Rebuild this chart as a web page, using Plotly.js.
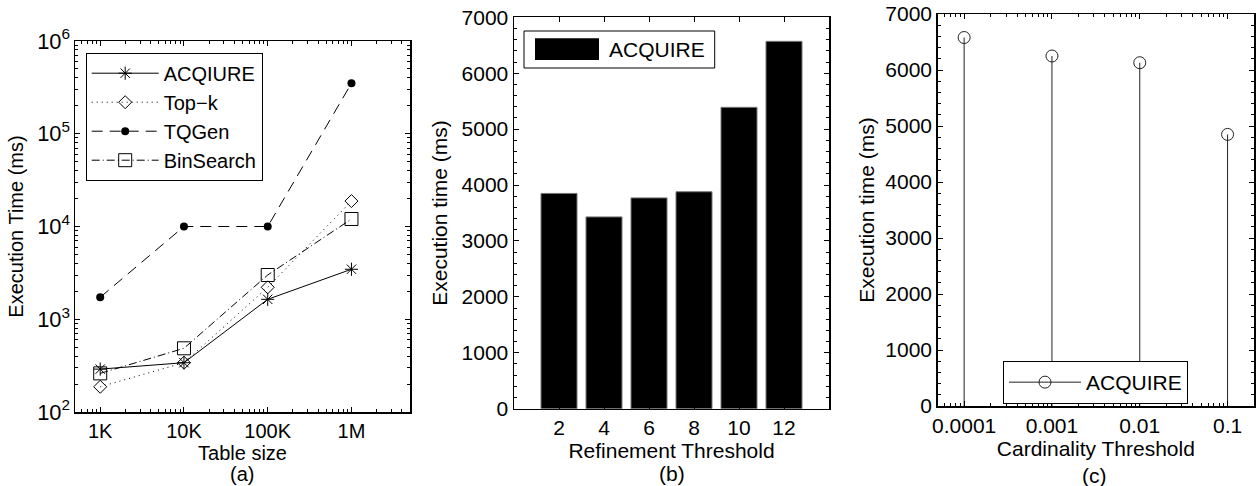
<!DOCTYPE html>
<html>
<head>
<meta charset="utf-8">
<script src="https://cdn.plot.ly/plotly-3.0.1.min.js"></script>
<style>html,body{margin:0;padding:0;background:#fff;}#chart{width:1256px;height:486px;}</style>
</head>
<body>
<div id="chart"></div>
<script>
// ---- data ----
const tableSizes = [1e3, 1e4, 1e5, 1e6];
const tableSizeLabels = ['1K', '10K', '100K', '1M'];
const acqiureTimes = [290, 340, 1640, 3460];
const topkTimes = [187, 340, 2210, 18800];
const tqgenTimes = [1725, 10000, 10000, 350000];
const binsearchTimes = [261, 486, 3000, 12050];

const refinementThresholds = ['2', '4', '6', '8', '10', '12'];
const refinementTimes = [3850, 3430, 3770, 3880, 5390, 6570];

const cardinalityThresholds = [0.0001, 0.001, 0.01, 0.1];
const cardinalityLabels = ['0.0001', '0.001', '0.01', '0.1'];
const cardinalityTimes = [6580, 6250, 6130, 4850];

// ---- layout helpers ----
const W = 1256, H = 486;
const px = x => x / W;
const py = y => 1 - y / H;
const FONT = 'Liberation Sans, Arial, Helvetica, sans-serif';

// stems for panel (c)
const stemX = [], stemY = [];
cardinalityThresholds.forEach((t, i) => {
  stemX.push(t, t, null);
  stemY.push(0, cardinalityTimes[i], null);
});

const stemColor = '#222';

const traces = [
  {x: tableSizes, y: acqiureTimes, name: 'ACQIURE', mode: 'lines+markers', xaxis: 'x', yaxis: 'y', legend: 'legend',
   line: {color: '#000', width: 1}, marker: {symbol: 'asterisk-open', size: 11, line: {color: '#000', width: 1}}},
  {x: tableSizes, y: topkTimes, name: 'Top\u2212k', mode: 'lines+markers', xaxis: 'x', yaxis: 'y', legend: 'legend',
   line: {color: '#000', width: 1, dash: '1px,4px'}, marker: {symbol: 'diamond-open', size: 10, color: '#000', line: {color: '#000', width: 1}}},
  {x: tableSizes, y: tqgenTimes, name: 'TQGen', mode: 'lines+markers', xaxis: 'x', yaxis: 'y', legend: 'legend',
   line: {color: '#000', width: 1, dash: '11px,7px'}, marker: {symbol: 'circle', size: 8, color: '#000'}},
  {x: tableSizes, y: binsearchTimes, name: 'BinSearch', mode: 'lines+markers', xaxis: 'x', yaxis: 'y', legend: 'legend',
   line: {color: '#000', width: 1, dash: '8px,3px,1px,3px'}, marker: {symbol: 'square-open', size: 13, color: '#000', line: {color: '#000', width: 1}}},

  {x: refinementThresholds, y: refinementTimes, type: 'bar', name: 'ACQUIRE', xaxis: 'x2', yaxis: 'y2', showlegend: false,
   width: 0.8, marker: {color: '#000', line: {color: '#777', width: 1}}},

  // stems (c)
  {x: stemX, y: stemY, name: 'ACQUIRE', mode: 'lines', xaxis: 'x3', yaxis: 'y3', showlegend: false,
   line: {color: stemColor, width: 1}},
  // stem heads (c)
  {x: cardinalityThresholds, y: cardinalityTimes, name: 'ACQUIRE', mode: 'markers', xaxis: 'x3', yaxis: 'y3', showlegend: false,
   marker: {symbol: 'circle-open', size: 12, color: stemColor, line: {color: stemColor, width: 1}}},
  // legend entry (c)
  {x: [null], y: [null], name: 'ACQUIRE', mode: 'lines+markers', xaxis: 'x3', yaxis: 'y3', legend: 'legend3',
   line: {color: stemColor, width: 1}, marker: {symbol: 'circle-open', size: 12, color: stemColor, line: {color: stemColor, width: 1}}}
];

const axisBase = {
  showline: true, linecolor: '#000', linewidth: 1.5, mirror: 'ticks',
  ticks: 'inside', ticklen: 5, tickcolor: '#000', showgrid: false, zeroline: false,
  tickfont: {family: FONT, size: 20, color: '#000'}
};

const layout = {
  width: W, height: H,
  margin: {l: 0, r: 0, t: 0, b: 0},
  paper_bgcolor: '#fff', plot_bgcolor: '#fff',
  font: {family: FONT, color: '#000'},
  showlegend: true,
  xaxis: Object.assign({}, axisBase, {
    type: 'log', domain: [px(75), px(410)], range: [Math.log10(500), Math.log10(5e6)],
    tickmode: 'array', tickvals: tableSizes, ticktext: tableSizeLabels,
    minor: {dtick: 'D1', ticks: 'inside', ticklen: 3, tickcolor: '#000'},
    title: {text: 'Table size', font: {family: FONT, size: 20}, standoff: 4}, anchor: 'y'
  }),
  yaxis: Object.assign({}, axisBase, {
    type: 'log', domain: [py(412), py(41)], range: [2, 6],
    tickmode: 'linear', tick0: 0, dtick: 1, exponentformat: 'power',
    tickfont: {family: FONT, size: 17.5, color: '#000'},
    minor: {dtick: 'D1', ticks: 'inside', ticklen: 3, tickcolor: '#000'},
    title: {text: 'Execution Time (ms)', font: {family: FONT, size: 20}, standoff: 8}, anchor: 'x'
  }),
  xaxis2: Object.assign({}, axisBase, {
    type: 'category', domain: [px(514), px(829)], range: [-1, 6],
    tickfont: {family: FONT, size: 21, color: '#000'},
    title: {text: 'Refinement Threshold', font: {family: FONT, size: 21}, standoff: 4}, anchor: 'y2'
  }),
  yaxis2: Object.assign({}, axisBase, {
    domain: [py(408.7), py(17.3)], range: [0, 7000], tickmode: 'linear', tick0: 0, dtick: 1000,
    tickfont: {family: FONT, size: 21, color: '#000'},
    minor: {dtick: 200, ticks: 'inside', ticklen: 3, tickcolor: '#000'},
    title: {text: 'Execution time (ms)', font: {family: FONT, size: 21}, standoff: 8}, anchor: 'x2'
  }),
  xaxis3: Object.assign({}, axisBase, {
    type: 'log', domain: [px(937.7), px(1254)], range: [Math.log10(5e-5), Math.log10(0.2)],
    tickmode: 'array', tickvals: cardinalityThresholds, ticktext: cardinalityLabels,
    tickfont: {family: FONT, size: 21, color: '#000'},
    minor: {dtick: 'D1', ticks: 'inside', ticklen: 3, tickcolor: '#000'},
    title: {text: 'Cardinality Threshold', font: {family: FONT, size: 21}, standoff: 4}, anchor: 'y3'
  }),
  yaxis3: Object.assign({}, axisBase, {
    domain: [py(406), py(14)], range: [0, 7000], tickmode: 'linear', tick0: 0, dtick: 1000,
    tickfont: {family: FONT, size: 21, color: '#000'},
    minor: {dtick: 200, ticks: 'inside', ticklen: 3, tickcolor: '#000'},
    title: {text: 'Execution time (ms)', font: {family: FONT, size: 21}, standoff: 5}, anchor: 'x3'
  }),
  legend: {
    x: px(85.7), y: py(52.7), xanchor: 'left', yanchor: 'top',
    bgcolor: '#fff', bordercolor: '#000', borderwidth: 1,
    font: {family: FONT, size: 20, color: '#000'}, itemwidth: 67, tracegroupgap: 0
  },
  legend3: {
    x: px(1003), y: py(361), xanchor: 'left', yanchor: 'top',
    bgcolor: '#fff', bordercolor: '#000', borderwidth: 1,
    font: {family: FONT, size: 21, color: '#000'}, itemwidth: 72
  },
  shapes: [
    {type: 'rect', xref: 'paper', yref: 'paper', x0: px(524), x1: px(714.7), y0: py(68), y1: py(31),
     line: {color: '#000', width: 1}, fillcolor: '#fff', layer: 'above'},
    {type: 'rect', xref: 'paper', yref: 'paper', x0: px(535), x1: px(599), y0: py(60), y1: py(38.3),
     line: {color: '#000', width: 0}, fillcolor: '#000', layer: 'above'}
  ],
  annotations: [
    {text: 'ACQUIRE', xref: 'paper', yref: 'paper', x: px(607), y: py(49.5), xanchor: 'left', yanchor: 'middle',
     showarrow: false, font: {family: FONT, size: 21, color: '#000'}},
    {text: '(a)', xref: 'paper', yref: 'paper', x: px(242), y: 0, xanchor: 'center', yanchor: 'bottom', borderpad: 0,
     showarrow: false, font: {family: FONT, size: 20, color: '#000'}},
    {text: '(b)', xref: 'paper', yref: 'paper', x: px(672), y: 0, xanchor: 'center', yanchor: 'bottom', borderpad: 0,
     showarrow: false, font: {family: FONT, size: 21, color: '#000'}},
    {text: '(c)', xref: 'paper', yref: 'paper', x: px(1094), y: py(475), xanchor: 'center', yanchor: 'middle',
     showarrow: false, font: {family: FONT, size: 21, color: '#000'}}
  ]
};

Plotly.newPlot('chart', traces, layout, {displayModeBar: false, staticPlot: true});
</script>
</body>
</html>
